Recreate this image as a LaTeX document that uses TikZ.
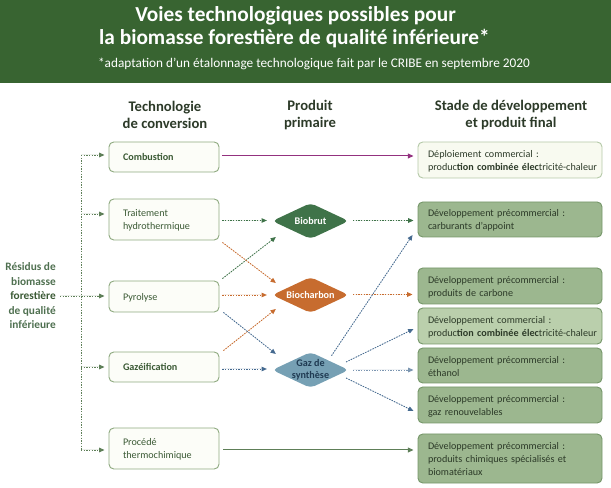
\documentclass[tikz,border=0pt]{standalone}
\usepackage{fontspec}
\setmainfont{Carlito}
\usetikzlibrary{arrows.meta,shapes.geometric,calc}
\definecolor{hdr}{HTML}{386431}
\definecolor{txtg}{HTML}{3B5A35}
\definecolor{txtl}{HTML}{4F7050}
\definecolor{txtd}{HTML}{2C3A28}
\definecolor{boxline}{HTML}{8FAA80}
\definecolor{boxfill}{HTML}{FCFDF8}
\definecolor{devfill}{HTML}{9CB78F}
\definecolor{devline}{HTML}{76976A}
\definecolor{lightfill}{HTML}{BACFAC}
\definecolor{depfill}{HTML}{F8FAF0}
\definecolor{depline}{HTML}{B5C9A8}
\definecolor{cgreen}{HTML}{3F7349}
\definecolor{corange}{HTML}{C76C2F}
\definecolor{cblue}{HTML}{76A0B4}
\definecolor{ablue}{HTML}{44698F}
\definecolor{amag}{HTML}{93317F}
\definecolor{asrc}{HTML}{5E7F58}
\definecolor{navy}{HTML}{1F3A52}
\tikzset{
  x=0.75pt,y=-0.75pt,
  tbox/.style={draw=boxline,fill=boxfill,line width=0.7pt,rounded corners=3.6pt,
    text width=82*0.75pt,inner xsep=10.5pt,inner ysep=0pt,align=left,text=txtg,
    font=\fontsize{7.6}{9.75}\selectfont,execute at end node={\par\vspace{-1.5pt}}},
  fbox/.style={draw=devline,fill=devfill,line width=0.7pt,rounded corners=3.6pt,
    text width=123pt,inner xsep=7.5pt,inner ysep=0pt,align=left,text=txtd,
    font=\fontsize{7.6}{9.75}\selectfont,execute at end node={\par\vspace{-1.5pt}}},
  dia/.style={diamond,aspect=2.15,inner sep=0pt,draw=none,rounded corners=3.5pt,
    minimum width=57.5pt,minimum height=27pt},
  dlabel/.style={inner sep=0pt,align=center,font=\fontsize{7.6}{9}\bfseries\selectfont},
  head/.style={inner sep=0pt,align=center,text=txtd,font=\fontsize{11}{12.75}\bfseries\selectfont},
  conn/.style={line width=0.65pt,dash pattern=on 1pt off 1pt,
    -{Stealth[length=4pt,width=3.4pt,inset=0pt]}},
  plain/.style={line width=0.75pt,-{Stealth[length=4.2pt,width=3.6pt,inset=0pt]}},
  trunk/.style={line width=0.65pt,dash pattern=on 1pt off 1pt,draw=asrc},
}
\begin{document}
\begin{tikzpicture}
\useasboundingbox (0,0) rectangle (611,488);
\fill[hdr] (0,0) rectangle (611,83);
\node[inner sep=0pt,text=white,font=\fontsize{16}{18}\bfseries\selectfont] (t1) at (295.5,16) {Voies technologiques possibles pour};
\node[inner sep=0pt,text=white,font=\fontsize{16}{18}\bfseries\selectfont] (t2) at (294.5,39) {la biomasse forestière de qualité inférieure*};
\node[inner sep=0pt,text=white,font=\fontsize{9.95}{11}\selectfont] (t3) at (314,63.5) {*adaptation d’un étalonnage technologique fait par le CRIBE en septembre 2020};
\node[head] (h1) at (165,115) {Technologie\\de conversion};
\node[head] (h2) at (310,115) {Produit\\primaire};
\node[head] (h3) at (511,115) {Stade de développement\\et produit final};
%
\node[anchor=east,inner sep=0pt,align=right,text=txtl,font=\fontsize{8.5}{10.9}\selectfont\bfseries] (src) at (56,296) {Résidus de\\biomasse\\\textcolor{txtg}{forestière}\\de qualité\\inférieure};
%
\node[tbox,minimum height=22.5pt] (comb) at (164,157) {\textbf{Combustion}};
\node[tbox,minimum height=30.75pt] (trait) at (164,219.5) {Traitement\\hydrothermique};
\node[tbox,minimum height=23.25pt] (pyro) at (164,296.5) {Pyrolyse};
\node[tbox,minimum height=22.5pt] (gazf) at (164,367) {\textbf{Gazéification}};
\node[tbox,minimum height=30.75pt] (proc) at (164,448.5) {Procédé\\thermochimique};
%
\node[dia,fill=cgreen] (biob) at (310.5,221) {};
\node[dlabel,text=white] (biobl) at (310.5,221) {Biobrut};
\node[dia,fill=corange] (bioc) at (310.5,295) {};
\node[dlabel,text=white] (biocl) at (310.5,295) {Biocharbon};
\node[dia,fill=cblue] (gaz) at (310.5,370) {};
\node[dlabel,text=navy] (gazl) at (310.5,369.5) {Gaz de\\synthèse};
%
\node[fbox,fill=depfill,draw=depline,minimum height=27pt] (dep) at (510,160) {Déploiement commercial :\\\mbox{produc\textbf{tion combinée élec}tricité-chaleur}};
\node[fbox,minimum height=26.25pt] (d1) at (510,219.5) {Développement précommercial :\\carburants d’appoint};
\node[fbox,minimum height=27pt] (d2) at (510,286) {Développement précommercial :\\produits de carbone};
\node[fbox,fill=lightfill,minimum height=27pt] (d3) at (510,326) {Développement commercial :\\\mbox{produc\textbf{tion combinée élec}tricité-chaleur}};
\node[fbox,minimum height=26.25pt] (d4) at (510,365.5) {Développement précommercial :\\éthanol};
\node[fbox,minimum height=27pt] (d5) at (510,405) {Développement précommercial :\\gaz renouvelables};
\node[fbox,minimum height=36.75pt] (d6) at (510,458.5) {Développement précommercial :\\produits chimiques spécialisés et\\biomatériaux};
%
\coordinate (tt) at (81,155);
\coordinate (tb) at (81,450);
\coordinate (tm) at (81,214);
\coordinate (tg) at (81,367);
\draw[trunk] (tt) -- (tb);
\draw[conn,draw=asrc,fill=asrc] ($(src.east)+(4,0)$) -- ([shift={(-4,-0.5)}]pyro.west);
\draw[conn,draw=asrc,fill=asrc] (tt) -- ([shift={(-4,-2)}]comb.west);
\draw[conn,draw=asrc,fill=asrc] (tm) -- ([shift={(-4,-5.5)}]trait.west);
\draw[conn,draw=asrc,fill=asrc] (tg) -- ([shift={(-4,0)}]gazf.west);
\draw[conn,draw=asrc,fill=asrc] (tb) -- ([shift={(-4,1.5)}]proc.west);
%
\draw[plain,draw=amag,fill=amag] ([shift={(3,-1)}]comb.east) -- ([shift={(-4,-4)}]dep.west);
%
\draw[conn,draw=cgreen,fill=cgreen] ([shift={(3,1)}]trait.east) -- ([shift={(-5,-0.5)}]biob.west);
\draw[conn,draw=cgreen,fill=cgreen] ([shift={(3,-2)}]pyro.north east) -- ([shift={(4,16)}]biob.west);
\draw[conn,draw=corange,fill=corange] ([shift={(3,2)}]trait.south east) -- ([shift={(4,-12)}]bioc.west);
\draw[conn,draw=corange,fill=corange] ([shift={(3,-1.5)}]pyro.east) -- ([shift={(-5,0)}]bioc.west);
\draw[conn,draw=corange,fill=corange] ([shift={(4,-1)}]gazf.north east) -- ([shift={(4,14)}]bioc.west);
\draw[conn,draw=ablue,fill=ablue] ([shift={(4,0)}]pyro.south east) -- ([shift={(4,-16)}]gaz.west);
\draw[conn,draw=ablue,fill=ablue] ([shift={(3,2)}]gazf.east) -- ([shift={(-5,-1)}]gaz.west);
%
\draw[conn,draw=cgreen,fill=cgreen] ([shift={(4,-0.5)}]biob.east) -- ([shift={(-4,1)}]d1.west);
\draw[conn,draw=corange,fill=corange] ([shift={(4,-0.5)}]bioc.east) -- ([shift={(-5,8.5)}]d2.west);
\draw[conn,draw=ablue,fill=ablue] ([shift={(21,4)}]gaz.north) -- ([shift={(-5,15.5)}]d1.west);
\draw[conn,draw=ablue,fill=ablue] ([shift={(-3,-8)}]gaz.east) -- ([shift={(-4,3)}]d3.west);
\draw[conn,draw=ablue!70!white,fill=ablue!70!white] ([shift={(4,0)}]gaz.east) -- ([shift={(-4,4.5)}]d4.west);
\draw[conn,draw=ablue,fill=ablue] ([shift={(-3,8)}]gaz.east) -- ([shift={(-4,6)}]d5.west);
%
\draw[plain,draw=asrc,fill=asrc] ([shift={(4,1.5)}]proc.east) -- ([shift={(-4,-8.5)}]d6.west);
\end{tikzpicture}
\end{document}
